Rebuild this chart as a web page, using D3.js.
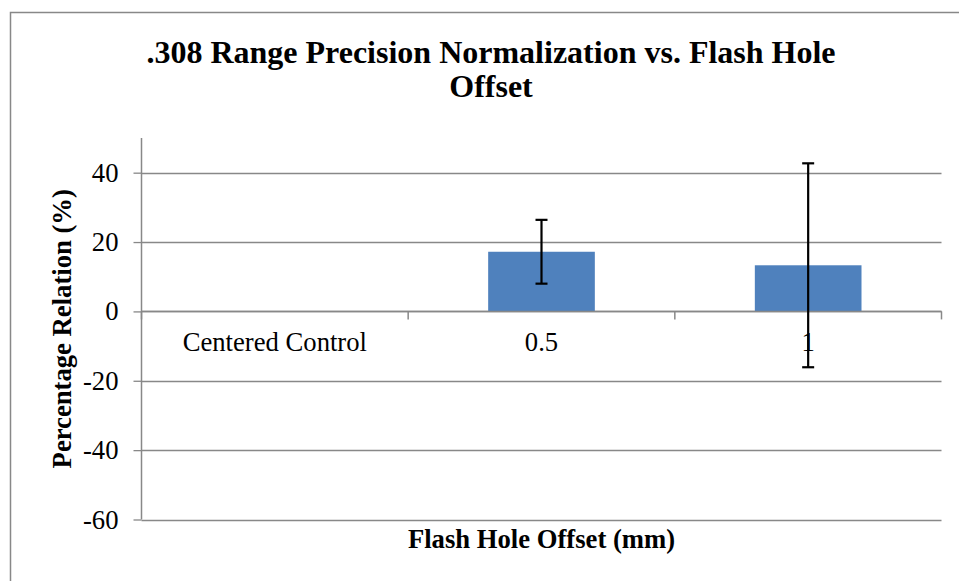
<!DOCTYPE html>
<html>
<head>
<meta charset="utf-8">
<script src="https://cdn.jsdelivr.net/npm/d3@7/dist/d3.min.js"></script>
<style>
  html, body { margin: 0; padding: 0; background: #fff; }
  svg { display: block; }
  text { font-family: "Liberation Serif", "Times New Roman", serif; fill: #000; }
</style>
</head>
<body>
<svg id="chart" width="959" height="581"></svg>
<script>
const categories = ["Centered Control", "0.5", "1"];
const values = [0, 17.2, 13.3];
const errors = [0, 9.2, 29.4];
const yTicks = [-60, -40, -20, 0, 20, 40];
const titleLines = [".308 Range Precision Normalization vs. Flash Hole", "Offset"];
const xTitle = "Flash Hole Offset (mm)";
const yTitle = "Percentage Relation (%)";

const svg = d3.select("#chart");
const gridColor = "#888888";

// outer chart border
svg.append("rect")
  .attr("x", 10.5).attr("y", 12.5)
  .attr("width", 960).attr("height", 600)
  .attr("fill", "none").attr("stroke", gridColor).attr("stroke-width", 1.5);

const plot = { left: 141.5, right: 941.5, top: 138, bottom: 519.5 };

const x = d3.scaleBand().domain(categories).range([plot.left, plot.right]).padding(0);
const y = d3.scaleLinear().domain([-60, 50]).range([plot.bottom, plot.top]);

// gridlines
svg.append("g").selectAll("line").data(yTicks).join("line")
  .attr("x1", plot.left).attr("x2", plot.right)
  .attr("y1", d => Math.round(y(d)) + 0.5).attr("y2", d => Math.round(y(d)) + 0.5)
  .attr("stroke", gridColor).attr("stroke-width", 1.3);

// y axis
const yAxis = d3.axisLeft(y).tickValues(yTicks).tickSize(8).tickPadding(15).tickFormat(d => String(d));
const gy = svg.append("g").attr("transform", `translate(${plot.left},0)`).call(yAxis)
  .attr("font-family", "Liberation Serif").attr("font-size", "26.67px");
gy.select(".domain").attr("stroke", gridColor).attr("stroke-width", 1.5).attr("d", `M0,${plot.top}V${plot.bottom}`);
gy.selectAll(".tick line").attr("stroke", gridColor).attr("stroke-width", 1.3);
gy.selectAll(".tick text")
  .style("font-family", "'Liberation Serif', 'Times New Roman', serif")
  .style("font-size", "26.67px").attr("fill", "#000");

// bars
const barW = x.bandwidth() * 0.4;
svg.append("g").selectAll("rect").data(categories).join("rect")
  .attr("x", d => x(d) + (x.bandwidth() - barW) / 2)
  .attr("width", barW)
  .attr("y", (d, i) => y(Math.max(0, values[i])))
  .attr("height", (d, i) => Math.abs(y(values[i]) - y(0)))
  .attr("fill", "#4F81BD");

// x axis line at 0
svg.append("line")
  .attr("x1", plot.left).attr("x2", plot.right)
  .attr("y1", Math.round(y(0)) + 0.5).attr("y2", Math.round(y(0)) + 0.5)
  .attr("stroke", gridColor).attr("stroke-width", 1.5);

// category ticks at band boundaries
const bounds = categories.map(c => x(c)).concat([plot.right]);
svg.append("g").selectAll("line").data(bounds).join("line")
  .attr("x1", d => d).attr("x2", d => d)
  .attr("y1", y(0)).attr("y2", y(0) + 8)
  .attr("stroke", gridColor).attr("stroke-width", 1.5);

// category labels
svg.append("g").selectAll("text").data(categories).join("text")
  .attr("x", d => x(d) + x.bandwidth() / 2)
  .attr("y", 351)
  .attr("text-anchor", "middle")
  .attr("font-size", "26.67px")
  .text(d => d);

// error bars
const capW = 12;
const eg = svg.append("g").attr("stroke", "#000").attr("stroke-width", 2.2);
categories.forEach((c, i) => {
  if (!errors[i]) return;
  const cx = x(c) + x.bandwidth() / 2;
  const hi = y(values[i] + errors[i]);
  const lo = y(values[i] - errors[i]);
  eg.append("line").attr("x1", cx).attr("x2", cx).attr("y1", hi).attr("y2", lo);
  eg.append("line").attr("x1", cx - capW / 2).attr("x2", cx + capW / 2).attr("y1", hi).attr("y2", hi);
  eg.append("line").attr("x1", cx - capW / 2).attr("x2", cx + capW / 2).attr("y1", lo).attr("y2", lo);
});

// title
svg.append("text")
  .attr("x", 491).attr("text-anchor", "middle")
  .attr("font-size", "32px").attr("font-weight", "bold")
  .selectAll("tspan").data(titleLines).join("tspan")
  .attr("x", 491).attr("y", (d, i) => 62.5 + i * 34.5)
  .text(d => d);

// x axis title
svg.append("text")
  .attr("x", (plot.left + plot.right) / 2).attr("y", 548)
  .attr("text-anchor", "middle")
  .attr("font-size", "26.67px").attr("font-weight", "bold")
  .text(xTitle);

// y axis title
svg.append("text")
  .attr("transform", `translate(71, ${(plot.top + plot.bottom) / 2}) rotate(-90)`)
  .attr("text-anchor", "middle")
  .attr("font-size", "26.67px").attr("font-weight", "bold")
  .text(yTitle);
</script>
</body>
</html>
